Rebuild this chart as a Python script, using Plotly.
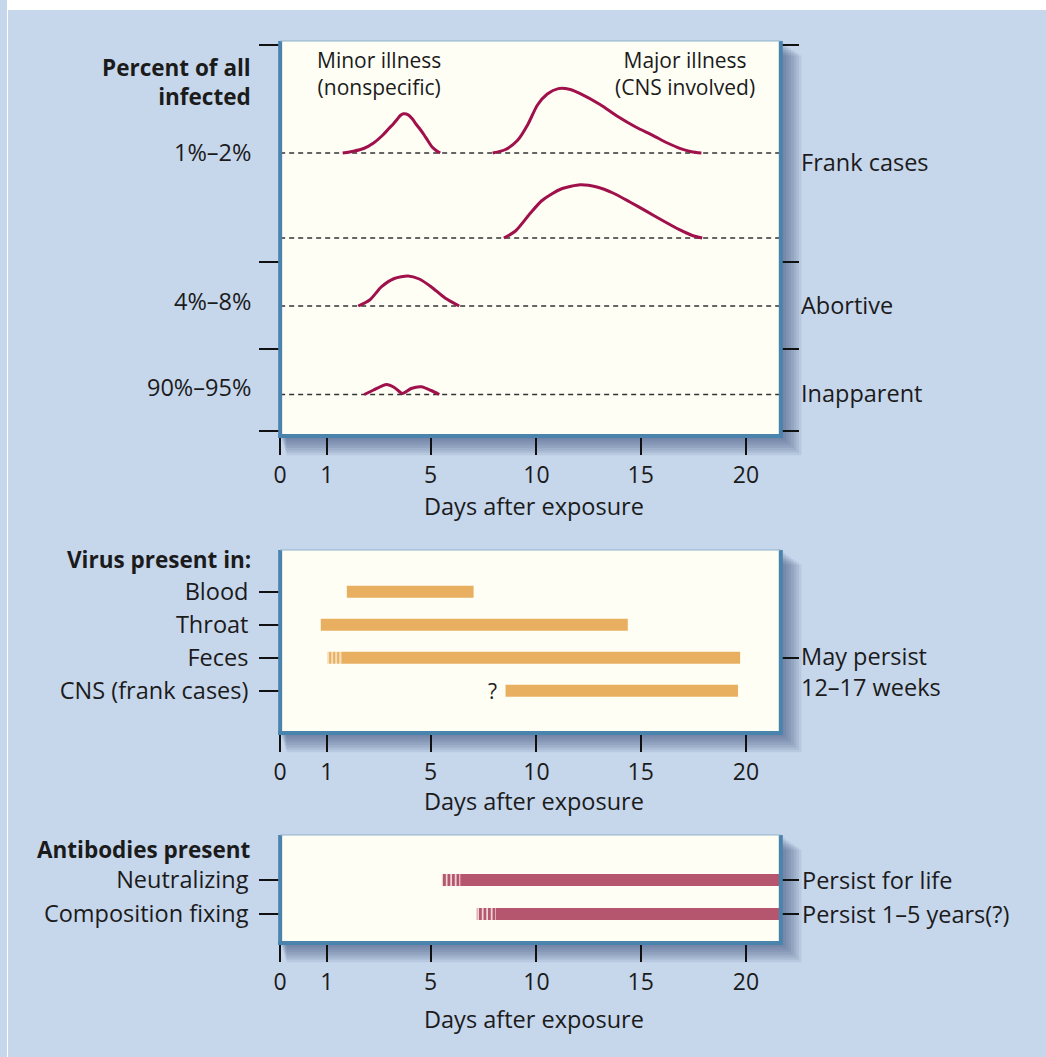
import numpy as np
import plotly.graph_objects as go

W, H = 1046, 1057
OFF_X = 3  # the page renders the figure slightly right of its origin

# ------------------------------------------------------------------ data
TICK_DAYS = [0, 1, 5, 10, 15, 20]
TICK_LABELS = ["0", "1", "5", "10", "15", "20"]

# Panel 1: illness curves (day, relative height above the row's baseline)
MINOR_DAYS = [1.61, 2.03, 2.42, 2.80, 3.14, 3.41, 3.56, 3.72, 3.83, 3.95, 4.06, 4.18,
              4.30, 4.45, 4.60, 4.75, 4.90, 5.07, 5.26, 5.45]
MINOR_H = [0, 1.8, 4.5, 10, 17.5, 25, 29, 34, 37.5, 39.2, 39, 37.3, 34, 28.5, 23.5, 18,
           12, 6, 2.5, 0]
MAJOR1_DAYS = [7.93, 8.54, 9.11, 9.58, 10.05, 10.52, 11.05, 11.62, 12.10, 13.05, 13.90,
               14.76, 15.57, 16.27, 16.89, 17.41, 17.88]
MAJOR1_H = [0, 3.5, 12.7, 28, 48, 59, 64.4, 63.5, 59.4, 48.5, 36.5, 26, 17.7, 10, 4.4, 1.3, 0]
MAJOR2_DAYS = [8.46, 9.01, 9.72, 10.24, 10.67, 11.24, 12.10, 12.90, 13.67, 14.48, 15.28,
               16.08, 16.84, 17.45, 17.92]
MAJOR2_H = [0, 7, 25, 37, 43.3, 49.5, 53.3, 51, 45, 36, 26.6, 17, 8.3, 2.5, 0]
ABORTIVE_DAYS = [2.21, 2.65, 3.11, 3.60, 4.13, 4.56, 5.02, 5.68, 6.35]
ABORTIVE_H = [0, 6, 19.3, 27.5, 30, 27, 19.3, 8, 0]
INAPPARENT_DAYS = [2.44, 2.80, 3.30, 3.60, 3.91, 4.25, 4.64, 5.02, 5.41]
INAPPARENT_H = [0, 4.5, 10, 7, 1, 6, 7.7, 4, 0]

PERCENT_LABELS = ["1%–2%", "4%–8%", "90%–95%"]
OUTCOME_LABELS = ["Frank cases", "Abortive", "Inapparent"]

# Panel 2: virus presence
VIRUS_SITES = ["Blood", "Throat", "Feces", "CNS (frank cases)"]
VIRUS_UNCERTAIN_START = [None, None, 1.02, None]
VIRUS_START = [1.77, 0.87, 1.57, 8.54]
VIRUS_END = [7.03, 14.38, 19.72, 19.62]
CNS_QUESTION_DAY = 7.92
FECES_NOTE = "May persist<br>12–17 weeks"

# Panel 3: antibodies
AB_TYPES = ["Neutralizing", "Composition fixing"]
AB_UNCERTAIN_START = [5.53, 7.18]
AB_START = [6.40, 8.08]
AB_END = [22.0, 22.0]
AB_NOTES = ["Persist for life", "Persist 1–5 years(?)"]

# ------------------------------------------------------------------ scale / layout
SCALE_U = [0, 47, 151.5, 258, 363, 469]   # schematic (non-uniform) day axis as drawn
X_RANGE = [0, 504]


def xu(days):
    d = np.asarray(days, float)
    u = np.interp(d, TICK_DAYS, SCALE_U)
    slope = (SCALE_U[-1] - SCALE_U[-2]) / (TICK_DAYS[-1] - TICK_DAYS[-2])
    return np.where(d > TICK_DAYS[-1], SCALE_U[-1] + (d - TICK_DAYS[-1]) * slope, u)


def px(x):
    return (x - OFF_X) / W


def py(y):
    return 1 - y / H


FONT = "Open Sans"
FS = 23.5
FS_BOLD = 22.5
FS_NOTE = 21
FS_TICK = 23
TXT = "#1b1b1b"
BG = "#c6d6eb"
CREAM = "#fffef5"
BORDER = "#4a84ac"
CURVE = "#a0104a"
ORANGE = "#e9af60"
ROSE = "#b5566e"

BOX_X = (278, 782)
BOXES = [(41, 436), (550, 733), (835, 943)]

ROW_BASE = [283, 198, 130, 41.5]
SEPARATORS = [391, 174, 87, 5]
P1_RANGE = [0, 395]
P2_RANGE = [4.279, -1.267]
P3_RANGE = [1.85, -1.32]

fig = go.Figure()

curves = [
    (MINOR_DAYS, MINOR_H, ROW_BASE[0]),
    (MAJOR1_DAYS, MAJOR1_H, ROW_BASE[0]),
    (MAJOR2_DAYS, MAJOR2_H, ROW_BASE[1]),
    (ABORTIVE_DAYS, ABORTIVE_H, ROW_BASE[2]),
    (INAPPARENT_DAYS, INAPPARENT_H, ROW_BASE[3]),
]
for days, h, base in curves:
    fig.add_trace(go.Scatter(
        x=xu(days), y=np.asarray(h) + base, mode="lines",
        line=dict(color=CURVE, width=3, shape="spline", smoothing=0.7),
        xaxis="x", yaxis="y", showlegend=False, hoverinfo="skip"))

for i, site in enumerate(VIRUS_SITES):
    if VIRUS_UNCERTAIN_START[i] is not None:
        b0 = xu(VIRUS_UNCERTAIN_START[i])
        fig.add_trace(go.Bar(
            orientation="h", y=[i], base=[float(b0)], x=[float(xu(VIRUS_START[i]) - b0)],
            width=0.36, xaxis="x2", yaxis="y2", showlegend=False, hoverinfo="skip",
            marker=dict(color=CREAM, line=dict(width=0),
                        pattern=dict(shape="|", fgcolor=ORANGE, bgcolor=CREAM,
                                     size=4, solidity=0.7, fillmode="replace"))))
    b0 = xu(VIRUS_START[i])
    fig.add_trace(go.Bar(
        orientation="h", y=[i], base=[float(b0)], x=[float(xu(VIRUS_END[i]) - b0)],
        width=0.36, xaxis="x2", yaxis="y2", showlegend=False, hoverinfo="skip",
        marker=dict(color=ORANGE, line=dict(width=0))))

for i, ab in enumerate(AB_TYPES):
    b0 = xu(AB_UNCERTAIN_START[i])
    fig.add_trace(go.Bar(
        orientation="h", y=[i], base=[float(b0)], x=[float(xu(AB_START[i]) - b0)],
        width=0.35, xaxis="x3", yaxis="y3", showlegend=False, hoverinfo="skip",
        marker=dict(color=CREAM, line=dict(width=0),
                    pattern=dict(shape="|", fgcolor=ROSE, bgcolor=CREAM,
                                 size=4.5, solidity=0.7, fillmode="replace"))))
    b0 = xu(AB_START[i])
    fig.add_trace(go.Bar(
        orientation="h", y=[i], base=[float(b0)], x=[float(xu(AB_END[i]) - b0)],
        width=0.35, xaxis="x3", yaxis="y3", showlegend=False, hoverinfo="skip",
        marker=dict(color=ROSE, line=dict(width=0))))

for xa, ya in [("x", "y4"), ("x2", "y5"), ("x3", "y6")]:
    fig.add_trace(go.Scatter(x=[None], y=[None], xaxis=xa, yaxis=ya,
                             showlegend=False, hoverinfo="skip"))

# ---- shapes
shapes = [
    dict(type="rect", xref="paper", yref="paper", x0=0, x1=1, y0=py(10), y1=1,
         fillcolor="white", line=dict(width=0), layer="below"),
    dict(type="rect", xref="paper", yref="paper", x0=0, x1=px(4), y0=0, y1=1,
         fillcolor="white", line=dict(width=0), layer="below"),
]
for (t, b) in BOXES:
    x0, x1 = BOX_X
    for k in range(1, 9):
        shapes.append(dict(type="rect", xref="paper", yref="paper",
                           x0=px(x0 + k * 0.8), x1=px(x1 + k * 2.6),
                           y0=py(b + k * 2.4), y1=py(t + k * 1.8),
                           fillcolor="rgba(40,62,105,0.085)", line=dict(width=0), layer="below"))
    shapes.append(dict(type="rect", xref="paper", yref="paper", x0=px(x0), x1=px(x1),
                       y0=py(b), y1=py(t), fillcolor=CREAM, line=dict(width=0), layer="below"))
for base in ROW_BASE:
    shapes.append(dict(type="line", xref="x", yref="y", x0=X_RANGE[0], x1=X_RANGE[1],
                       y0=base, y1=base, line=dict(color="#333333", width=1.3, dash="5px,4px"),
                       layer="below"))
for (t, b) in BOXES:
    x0, x1 = BOX_X
    shapes += [
        dict(type="line", xref="paper", yref="paper", x0=px(x0), x1=px(x0), y0=py(b + 2), y1=py(t),
             line=dict(color=BORDER, width=4), layer="above"),
        dict(type="line", xref="paper", yref="paper", x0=px(x1), x1=px(x1), y0=py(b + 2), y1=py(t),
             line=dict(color=BORDER, width=4), layer="above"),
        dict(type="line", xref="paper", yref="paper", x0=px(x0 - 2), x1=px(x1 + 2), y0=py(b), y1=py(b),
             line=dict(color=BORDER, width=4), layer="above"),
        dict(type="line", xref="paper", yref="paper", x0=px(x0), x1=px(x1), y0=py(t), y1=py(t),
             line=dict(color="#8fb2cc", width=1), layer="above"),
    ]

ann = []


def text(x, y, s, xanchor="left", yanchor="middle", size=FS, align="left", ref=("paper", "paper")):
    ann.append(dict(x=x, y=y, xref=ref[0], yref=ref[1], text=s, showarrow=False,
                    xanchor=xanchor, yanchor=yanchor, align=align,
                    font=dict(family=FONT, size=size, color=TXT)))


text(px(251), py(82), "<b>Percent of all</b><br><b>infected</b>", "right", align="right", size=FS_BOLD)
for lab, y in zip(PERCENT_LABELS, [152, 301, 387]):
    text(px(251), py(y), lab, "right")
for lab, y in zip(OUTCOME_LABELS, [162, 305, 393]):
    text(px(800), py(y), lab, "left")
text(px(378), py(73), "Minor illness<br>(nonspecific)", "center", align="center", size=FS_NOTE)
text(px(686), py(73), "Major illness<br>(CNS involved)", "center", align="center", size=FS_NOTE)
text(px(251), py(559), "<b>Virus present in:</b>", "right", size=FS_BOLD)
text(float(xu(CNS_QUESTION_DAY)), 3, "?", "center", ref=("x2", "y2"), size=FS_NOTE)
text(px(800), py(671.5), FECES_NOTE, "left")
text(px(251), py(849), "<b>Antibodies present</b>", "right", size=FS_BOLD)
for i, note in enumerate(AB_NOTES):
    ann.append(dict(x=1, y=i, xref="x3 domain", yref="y3", text=note, showarrow=False,
                    xanchor="left", yanchor="middle", xshift=19,
                    font=dict(family=FONT, size=FS, color=TXT)))
for y in [506, 801, 1019]:
    text(px(534), py(y), "Days after exposure", "center")


def xaxis(anchor):
    return dict(domain=[px(BOX_X[0]), px(BOX_X[1])], anchor=anchor, range=X_RANGE,
                tickmode="array", tickvals=list(xu(TICK_DAYS)), ticktext=TICK_LABELS,
                ticks="outside", ticklen=18, tickwidth=2, tickcolor="#111111",
                showgrid=False, zeroline=False, showline=False, fixedrange=True,
                tickfont=dict(family=FONT, size=FS_TICK, color=TXT))


def yaxis(top, bottom, rng, tickvals, ticktext=None, side="left", overlay=None, anchor="x"):
    d = dict(domain=[py(bottom), py(top)], range=rng, anchor=anchor,
             tickmode="array", tickvals=tickvals, ticks="outside",
             ticklen=20 if side == "left" else 17, tickwidth=2, tickcolor="#111111",
             showgrid=False, zeroline=False, showline=False, fixedrange=True,
             side=side, tickfont=dict(family=FONT, size=FS, color=TXT),
             ticklabelstandoff=6)
    if ticktext is None:
        d["showticklabels"] = False
    else:
        d["ticktext"] = ticktext
    if overlay:
        d["overlaying"] = overlay
    return d


fig.update_layout(
    width=W, height=H, margin=dict(l=0, r=0, t=0, b=0),
    paper_bgcolor=BG, plot_bgcolor="rgba(0,0,0,0)",
    showlegend=False, barmode="overlay",
    font=dict(family=FONT, size=FS, color=TXT),
    xaxis=xaxis("y"), xaxis2=xaxis("y2"), xaxis3=xaxis("y3"),
    yaxis=yaxis(*BOXES[0], P1_RANGE, SEPARATORS, anchor="x"),
    yaxis2=yaxis(*BOXES[1], P2_RANGE, [0, 1, 2, 3], VIRUS_SITES, anchor="x2"),
    yaxis3=yaxis(*BOXES[2], P3_RANGE, [0, 1], AB_TYPES, anchor="x3"),
    yaxis4=yaxis(*BOXES[0], P1_RANGE, SEPARATORS, side="right", overlay="y", anchor="x"),
    yaxis5=yaxis(*BOXES[1], P2_RANGE, [2], side="right", overlay="y2", anchor="x2"),
    yaxis6=yaxis(*BOXES[2], P3_RANGE, [0, 1], side="right", overlay="y3", anchor="x3"),
    shapes=shapes, annotations=ann,
)

fig.write_html("out.html", config={"displayModeBar": False},
               post_script="document.body.style.margin='0';document.body.style.overflow='hidden';")
